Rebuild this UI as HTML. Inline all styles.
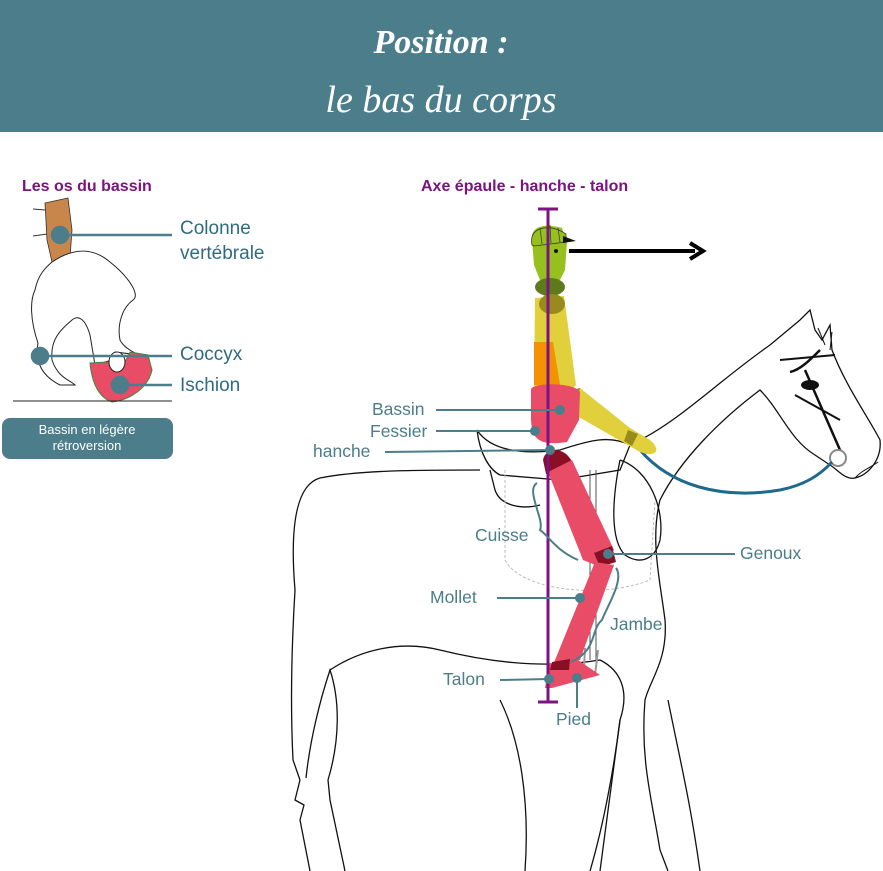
<!DOCTYPE html>
<html><head><meta charset="utf-8"><style>
html,body{margin:0;padding:0;background:#fff;}
body{width:883px;height:871px;position:relative;overflow:hidden;font-family:"Liberation Sans",sans-serif;}
</style></head><body>
<svg width="883" height="871" viewBox="0 0 883 871" xmlns="http://www.w3.org/2000/svg" style="position:absolute;left:0;top:0">
<rect x="0" y="0" width="883" height="132" fill="#4b7d8a"/>
<text x="441" y="53" text-anchor="middle" font-family="Liberation Serif,serif" font-style="italic" font-weight="bold" font-size="34" fill="#fff">Position :</text>
<text x="441" y="112" text-anchor="middle" font-family="Liberation Serif,serif" font-style="italic" font-size="38" fill="#fff">le bas du corps</text>

<text x="22" y="191" font-weight="bold" font-size="16" fill="#7b1380">Les os du bassin</text>
<text x="421" y="191" font-weight="bold" font-size="16" fill="#7b1380">Axe épaule - hanche - talon</text>

<!-- pelvis -->
<path d="M45,203 L68,198 L72,230 L70,258 L52,262 L47,240 Z" fill="#c8864a" stroke="#333" stroke-width="0.8"/>
<path d="M33,209 L45,210 M33,236 L47,234" stroke="#333"/>
<path d="M52,262 C70,250 90,245 110,262 C130,278 140,295 133,300 C122,308 117,325 120,340 C125,350 140,355 140,355 L115,352 L112,360 L95,365 L90,335 C85,318 78,315 72,320 C60,330 50,340 52,360 C58,378 70,380 75,385 L60,385 C40,375 35,360 38,343 C30,320 30,300 35,290 C38,275 45,268 52,262 Z" fill="#fff" stroke="#222" stroke-width="1"/>
<path d="M90,363 C92,385 100,398 112,402 C130,400 148,388 152,370 L148,355 L130,352 L126,360 L108,362 Z" fill="#e84c67" stroke="#3a8a3a" stroke-width="1"/>
<ellipse cx="117" cy="362" rx="8" ry="10" fill="#fff" stroke="#222"/>
<line x1="13" y1="401" x2="172" y2="401" stroke="#222"/>
<g stroke="#4b7d8a" stroke-width="2.5" fill="#4b7d8a">
<line x1="60" y1="235" x2="172" y2="235"/><circle cx="60" cy="235" r="8"/>
<line x1="40" y1="356" x2="172" y2="356"/><circle cx="40" cy="356" r="8"/>
<line x1="120" y1="385" x2="172" y2="385"/><circle cx="120" cy="385" r="8"/>
</g>
<g font-size="19" fill="#2f6b82">
<text x="180" y="234">Colonne</text><text x="180" y="259">vertébrale</text>
<text x="180" y="360">Coccyx</text><text x="180" y="391">Ischion</text>
</g>
<rect x="2" y="418" width="171" height="41" rx="8" fill="#4b7d8a"/>
<text x="87" y="434" text-anchor="middle" font-size="13" fill="#fff">Bassin en légère</text>
<text x="87" y="450" text-anchor="middle" font-size="13" fill="#fff">rétroversion</text>

<!-- horse -->
<g fill="none" stroke="#111" stroke-width="1.3">
<path d="M640,440 C680,420 720,380 770,345 L800,320 L810,310 L815,330 L822,340 L830,325 L832,350 C845,385 870,420 880,440 C882,460 868,475 855,478 C845,480 838,470 830,465 L815,455 C790,440 780,410 760,390 C720,420 680,460 660,500 C650,540 660,580 665,620 C668,660 650,680 645,700 C640,760 652,800 660,850 L668,871"/>
<path d="M480,470 C420,470 360,470 320,478 C295,485 290,530 295,590 C292,640 290,700 293,760 L300,780 M306,778 C310,740 320,700 330,670 C340,700 340,740 328,780 L330,800 L345,871"/>
<path d="M300,780 L295,800 L304,805 L300,820 L310,871"/>
<path d="M330,670 C360,650 400,640 440,650 C480,660 540,670 600,660 C620,670 630,690 620,720 L600,871"/>
<path d="M500,700 C520,740 530,800 525,871"/>
<path d="M620,720 C615,760 605,820 590,871"/>
<path d="M700,871 C690,800 680,760 668,700"/>
<path d="M477,430 C490,450 520,455 560,450 C590,440 610,435 630,445 L620,470 L560,480 L500,475 C490,470 480,455 477,430 Z"/>
<path d="M490,470 L495,490 C500,505 520,510 540,505"/>
<path d="M620,460 C650,470 665,510 660,540 C655,560 640,565 625,555 C610,540 612,500 620,460"/>
<path d="M820,350 C810,360 800,370 790,372 M805,370 L840,450" stroke-width="2.5"/>
<path d="M780,360 L835,355 M795,395 L840,420" stroke-width="2"/>
<path d="M818,328 L825,345 M832,332 L830,350" stroke-width="1"/>
<path d="M855,478 C862,470 870,468 878,462" stroke-width="1"/>
</g>
<path d="M505,470 L505,560 C520,590 600,600 650,580 L655,500" fill="none" stroke="#bbb" stroke-dasharray="3,2"/>
<path d="M590,470 L590,660 M596,470 L596,660" stroke="#555" stroke-width="1"/>
<path d="M585,648 L584,670 L595,675 L598,650" fill="none" stroke="#999" stroke-width="2"/>
<ellipse cx="810" cy="385" rx="9" ry="5" fill="#111"/>
<circle cx="838" cy="458" r="8" fill="#fff" stroke="#888" stroke-width="2"/>
<path d="M640,450 C670,485 720,500 780,490 C805,485 820,475 832,462" fill="none" stroke="#1d6a8a" stroke-width="3"/>

<!-- rider -->
<path d="M532,240 C530,226 545,223 562,228 L567,242 L565,270 L560,280 L540,280 L534,265 Z" fill="#95c01e"/>
<path d="M532,245 C528,228 548,222 566,234 L566,242 L534,246 Z" fill="#95c01e" stroke="#333" stroke-width="0.8"/>
<path d="M540,228 L542,244 M550,225 L551,243 M558,228 L560,242" stroke="#333" stroke-width="0.7"/>
<path d="M563,236 L576,241 L563,243 Z" fill="#111"/>
<circle cx="556" cy="251" r="2" fill="#111"/>
<ellipse cx="550" cy="287" rx="15" ry="9" fill="#5f7a1b"/>
<path d="M535,298 L564,296 L576,385 L566,396 L534,386 Z" fill="#e1cf3b"/>
<ellipse cx="552" cy="304" rx="13" ry="10" fill="#988a1c"/>
<path d="M534,342 L553,342 L560,385 L534,385 Z" fill="#f39303"/>
<path d="M564,392 L580,388 L630,428 L650,440 C662,450 656,458 640,452 L570,412 Z" fill="#e1cf3b"/>
<path d="M564,392 L580,388 L577,400 L567,404 Z" fill="#988a1c"/>
<path d="M628,430 L638,434 L632,446 L624,441 Z" fill="#988a1c"/>
<path d="M531,390 C530,382 575,382 580,392 L579,420 L567,442 C540,446 532,440 531,420 Z" fill="#e84c67"/>
<path d="M543,460 C545,447 565,446 572,462 L560,473 L546,474 Z" fill="#8a0f25"/>
<path d="M548,472 L572,460 L614,550 L598,566 L583,560 Z" fill="#e84c67"/>
<path d="M594,553 L612,546 L616,562 L600,567 Z" fill="#8a0f25"/>
<path d="M595,562 L614,565 L580,660 L553,665 Z" fill="#e84c67"/>
<path d="M549,664 L578,660 L600,675 L552,688 L545,688 Z" fill="#e84c67"/>
<path d="M552,662 L570,659 L569,670 L550,670 Z" fill="#8a0f25"/>
<!-- axis -->
<g stroke="#7b1380" stroke-width="3"><line x1="548" y1="209" x2="548" y2="702"/><line x1="538" y1="209" x2="558" y2="209"/><line x1="538" y1="702" x2="558" y2="702"/></g>
<path d="M569,251 L695,251" stroke="#000" stroke-width="4"/>
<path d="M690,243 L703,251 L690,259" fill="none" stroke="#000" stroke-width="4"/>

<g stroke="#4b7d8a" stroke-width="2" fill="#4b7d8a">
<line x1="436" y1="410" x2="560" y2="410"/><circle cx="560" cy="410" r="4"/>
<line x1="436" y1="431" x2="535" y2="431"/><circle cx="535" cy="431" r="4"/>
<line x1="385" y1="452" x2="550" y2="450"/><circle cx="550" cy="450" r="4"/>
<line x1="608" y1="554" x2="735" y2="554"/><circle cx="608" cy="554" r="4"/>
<line x1="497" y1="598" x2="580" y2="598"/><circle cx="580" cy="598" r="4"/>
<line x1="500" y1="680" x2="549" y2="679"/><circle cx="549" cy="679" r="4"/>
<line x1="577" y1="678" x2="577" y2="708"/><circle cx="577" cy="678" r="4"/>
</g>
<path d="M537,483 C525,490 545,520 540,530 C548,535 555,550 578,560" fill="none" stroke="#4b7d8a" stroke-width="2"/>
<path d="M616,568 C625,580 605,610 602,620 C590,630 598,650 571,662" fill="none" stroke="#4b7d8a" stroke-width="2"/>
<g font-size="17.5" fill="#4b7d8a">
<text x="372" y="415">Bassin</text>
<text x="370" y="437">Fessier</text>
<text x="313" y="457">hanche</text>
<text x="475" y="541">Cuisse</text>
<text x="740" y="559">Genoux</text>
<text x="430" y="603">Mollet</text>
<text x="610" y="630">Jambe</text>
<text x="443" y="685">Talon</text>
<text x="556" y="725">Pied</text>
</g>
</svg>
</body></html>
